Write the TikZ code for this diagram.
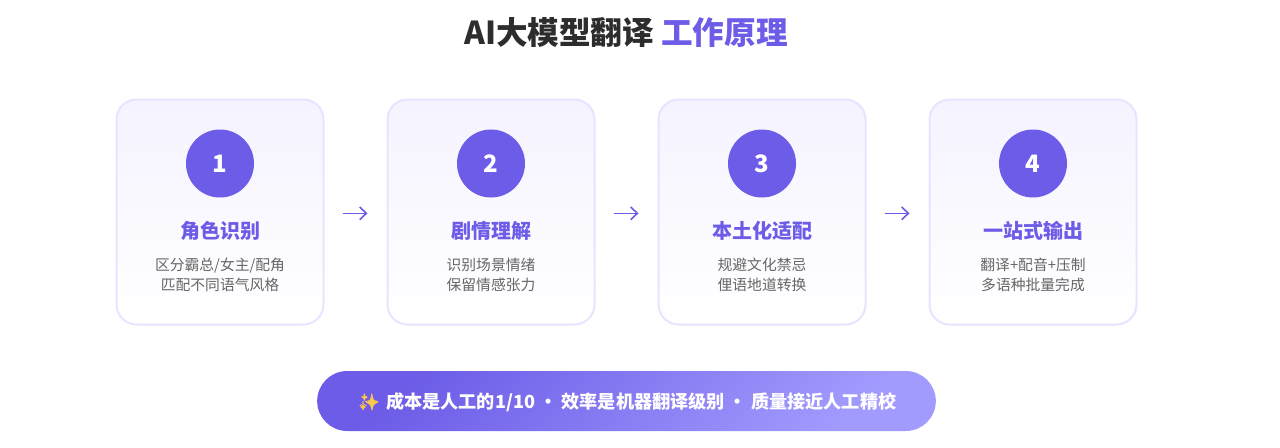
\documentclass[tikz,border=0pt]{standalone}
\usepackage{fontspec}
\setmainfont{Noto Sans CJK SC}
\newfontfamily\emojifont{Noto Emoji}
\usetikzlibrary{arrows.meta,positioning}
\definecolor{accent}{HTML}{6C5CE7}
\definecolor{accentLight}{HTML}{A29BFE}
\definecolor{cardTop}{HTML}{F5F3FF}
\definecolor{cardEdge}{HTML}{E8E4FF}
\definecolor{headInk}{HTML}{2D2D2D}
\definecolor{descInk}{HTML}{666666}
\definecolor{sparkle}{HTML}{FDC84A}

\begin{document}
\begin{tikzpicture}[x=0.75pt, y=-0.75pt, line cap=round, line join=round]
    \useasboundingbox (0,0) rectangle (1280,447);

    \tikzset{
        card/.style={draw=cardEdge, line width=1.5pt, rounded corners=15pt, top color=cardTop, bottom color=white, minimum width=155.25pt, minimum height=168.75pt, inner sep=0pt},
        badge/.style={circle, fill=accent, minimum size=51pt, inner sep=0pt, text=white, font=\fontsize{18}{22}\selectfont\bfseries},
        cardTitle/.style={text=accent, inner sep=0pt, font=\fontsize{15}{18}\selectfont\bfseries},
        cardDesc/.style={text=descInk, inner sep=0pt, align=center, font=\fontsize{11.1}{15}\selectfont},
        flow/.style={draw=accent, line width=1.2pt, -{Straight Barb[length=5pt,width=9.5pt]}, shorten <=14.25pt, shorten >=14.25pt},
        pill/.style={rounded corners=22.5pt, minimum width=464pt, minimum height=45pt, inner sep=0pt, top color=accent, bottom color=accentLight, shading angle=45}
    }

    \newcommand{\drawcard}[5]{%
        \node[card] (card#1) at (#2,212) {};
        \node[badge] (badge#1) at (#2,163.5) {#1};
        \node[cardTitle] (title#1) at (#2,231) {#3};
        \node[cardDesc] (desc#1) at (#2,275) {#4\\#5};
    }

    \newcommand{\drawstar}[4]{%
        \begin{scope}[shift={(#1,#2)}, xscale=#3, yscale=#4]
            \fill[sparkle] (-1,0) .. controls (-0.25,-0.25) .. (0,-1) .. controls (0.25,-0.25) .. (1,0)
                .. controls (0.25,0.25) .. (0,1) .. controls (-0.25,0.25) .. cycle;
        \end{scope}
    }

    % Heading
    \node[inner sep=0pt, text=headInk, font=\fontsize{23.7}{28}\selectfont\bfseries] (heading) at (626,32) {AI大模型翻译 \textcolor{accent}{工作原理}};

    % Steps
    \drawcard{1}{220}{角色识别}{区分霸总/女主/配角}{匹配不同语气风格}
    \drawcard{2}{491}{剧情理解}{识别场景情绪}{保留情感张力}
    \drawcard{3}{762}{本土化适配}{规避文化禁忌}{俚语地道转换}
    \drawcard{4}{1033}{一站式输出}{翻译+配音+压制}{多语种批量完成}

    % Arrows between steps
    \foreach \a/\b in {1/2,2/3,3/4} {
        \draw[flow] ([yshift=-1pt]card\a.east) -- ([yshift=-1pt]card\b.west);
    }

    % Summary bar
    \node[pill] (summary) at (626.5,401) {};
    \node[inner sep=0pt, text=white, font=\fontsize{13.6}{16}\selectfont\bfseries, anchor=west] (summaryText) at (386,402)
        {成本是人工的1/10 · 效率是机器翻译级别 · 质量接近人工精校};

    % Sparkle, filled under its outline glyph
    \drawstar{372}{402.5}{6}{8.5}
    \drawstar{364.5}{397.5}{3}{3.5}
    \drawstar{363}{407}{3}{3.5}
    \node[inner sep=0pt, text=sparkle, font=\fontsize{12}{16}\selectfont\emojifont] (sparkleIcon) at (369,402) {✨};
\end{tikzpicture}
\end{document}
